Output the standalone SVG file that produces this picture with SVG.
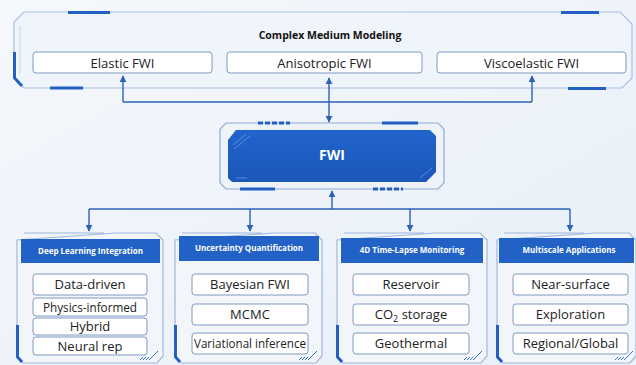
<svg xmlns="http://www.w3.org/2000/svg" width="636" height="365" viewBox="0 0 636 365">
<defs>
<linearGradient id="bg" x1="0" y1="0" x2="1" y2="1">
<stop offset="0" stop-color="#f5f8fc"/>
<stop offset="1" stop-color="#e8eff8"/>
</linearGradient>
<linearGradient id="blue" x1="0" y1="0" x2="0" y2="1">
<stop offset="0" stop-color="#2164cc"/>
<stop offset="1" stop-color="#1a57b8"/>
</linearGradient>
<marker id="ah" viewBox="0 0 10 10" refX="9" refY="5" markerWidth="7" markerHeight="7" markerUnits="userSpaceOnUse" orient="auto">
<path d="M0,0 L10,5 L0,10 Z" fill="#2c62b8"/>
</marker>
<style>
.frame{fill:none;stroke:#9fb8de;stroke-width:1.2}
.accent{stroke:#2260c2;stroke-width:3;fill:none}
.item{fill:#ffffff;stroke:#7f98c2;stroke-width:1}
.itxt{font-family:"Open Sans","Noto Sans",sans-serif;font-size:13px;fill:#222;text-anchor:middle}
.htxt{font-family:"Open Sans","Noto Sans",sans-serif;font-size:8px;font-weight:bold;fill:#ffffff;text-anchor:middle}
.hdr{fill:#2262c6}
.conn{stroke:#2c62b8;stroke-width:1.4;fill:none}
.hatch{stroke:#3a6fc8;stroke-width:1;fill:none}
</style>
</defs>
<rect width="636" height="365" fill="url(#bg)"/>

<g id="complex-medium">
<path d="M24,12 L620,12 L632,24 L632,78 L622,88 L24,88 L14,78 L14,22 Z" fill="#f0f5fb" stroke="#a8bfe2" stroke-width="1.2"/>
<path d="M20,26 L20,74" stroke="#c5d4ec" stroke-width="1" fill="none"/>
<line class="accent" x1="68" y1="12.5" x2="110" y2="12.5"/>
<line class="accent" x1="50" y1="88" x2="83" y2="88"/>
<path class="accent" d="M14.5,52 L14.5,78 L22,86"/>
<line class="accent" x1="561" y1="12.5" x2="599" y2="12.5"/>
<line class="accent" x1="568" y1="88.5" x2="606" y2="88.5"/>
<text x="330" y="39" font-family="'Open Sans','Noto Sans',sans-serif" font-size="10.5" font-weight="bold" fill="#111" text-anchor="middle">Complex Medium Modeling</text>
<rect class="item" x="33" y="52" width="179" height="21" rx="3"/>
<text class="itxt" x="122.5" y="67.5">Elastic FWI</text>
<rect class="item" x="227" y="52" width="195" height="21" rx="3"/>
<text class="itxt" x="324.5" y="67.5">Anisotropic FWI</text>
<rect class="item" x="437" y="52" width="189" height="21" rx="3"/>
<text class="itxt" x="531.5" y="67.5">Viscoelastic FWI</text>
</g>

<g id="fwi">
<path d="M226,123 L438,123 L444,129 L444,183 L438,189 L226,189 L220,183 L220,129 Z" fill="#eef3fa" stroke="#8eaad6" stroke-width="1.2"/>
<path d="M236,130 L430,130 L436,136 L436,172 L426,182 L232,182 L228,178 L228,140 Z" fill="url(#blue)"/>
<path d="M233,145 L246,134 M234,149 L250,136" stroke="#6f9be0" stroke-width="0.8" fill="none"/>
<line x1="236" y1="178" x2="247" y2="178" stroke="#6f9be0" stroke-width="0.8"/>
<path d="M420,178 L432,168" stroke="#6f9be0" stroke-width="0.8"/>
<line x1="258" y1="123" x2="290" y2="123" stroke="#2260c2" stroke-width="3" stroke-dasharray="5,2"/>
<line x1="382" y1="123" x2="418" y2="123" stroke="#2260c2" stroke-width="3"/>
<line x1="240" y1="189" x2="275" y2="189" stroke="#2260c2" stroke-width="3"/>
<line x1="373" y1="189" x2="403" y2="189" stroke="#2260c2" stroke-width="3" stroke-dasharray="5,2"/>
<text x="332" y="160" font-family="'Open Sans','Noto Sans',sans-serif" font-size="14" font-weight="bold" fill="#ffffff" text-anchor="middle">FWI</text>
</g>

<g id="connectors">
<polyline class="conn" points="123,102 532,102"/>
<line class="conn" x1="123" y1="102" x2="123" y2="76" marker-end="url(#ah)"/>
<line class="conn" x1="532" y1="102" x2="532" y2="76" marker-end="url(#ah)"/>
<line class="conn" x1="329" y1="102" x2="329" y2="78" marker-end="url(#ah)"/>
<line class="conn" x1="329" y1="102" x2="329" y2="122" marker-end="url(#ah)"/>
<line class="conn" x1="89" y1="209" x2="570" y2="209"/>
<line class="conn" x1="332" y1="209" x2="332" y2="191" marker-end="url(#ah)"/>
<line class="conn" x1="89" y1="209" x2="89" y2="231" marker-end="url(#ah)"/>
<line class="conn" x1="250" y1="209" x2="250" y2="231" marker-end="url(#ah)"/>
<line class="conn" x1="410" y1="209" x2="410" y2="231" marker-end="url(#ah)"/>
<line class="conn" x1="570" y1="209" x2="570" y2="231" marker-end="url(#ah)"/>
</g>

<g id="deep-learning">
<path d="M24,233 L104,233 M116,233 L156,233 L163,240 L163,356 L157,363 L23,363 L17,357 L17,240 Z" fill="#f2f6fb" stroke="#9fb8de" stroke-width="1.2"/>
<path class="accent" d="M17.5,325 L17.5,357 L22,362"/>
<path class="hatch" d="M140,360 L143,357 M143,360 L146,357 M146,360 L149,357 M149,360 L158,351"/>
<rect class="hdr" x="21" y="239" width="139" height="24"/>
<text class="htxt" x="90.5" y="253.5">Deep Learning Integration</text>
<rect class="item" x="33" y="274" width="114" height="21" rx="3"/>
<text class="itxt" x="90" y="289">Data-driven</text>
<rect class="item" x="33" y="298" width="114" height="18" rx="3"/>
<text class="itxt" x="90" y="311.5" textLength="94" lengthAdjust="spacingAndGlyphs">Physics-informed</text>
<rect class="item" x="33" y="318" width="114" height="17" rx="3"/>
<text class="itxt" x="90" y="331">Hybrid</text>
<rect class="item" x="33" y="337" width="114" height="18" rx="3"/>
<text class="itxt" x="90" y="350.5">Neural rep</text>
</g>

<g id="uncertainty">
<path d="M182,233 L262,233 M274,233 L315,233 L322,240 L322,356 L316,363 L181,363 L175,357 L175,240 Z" fill="#f2f6fb" stroke="#9fb8de" stroke-width="1.2"/>
<path class="accent" d="M175.5,325 L175.5,357 L180,362"/>
<path class="hatch" d="M299,360 L302,357 M302,360 L305,357 M305,360 L308,357 M308,360 L317,351"/>
<rect class="hdr" x="179" y="236" width="140" height="25"/>
<text class="htxt" x="249" y="251">Uncertainty Quantification</text>
<rect class="item" x="192" y="274" width="116" height="21" rx="3"/>
<text class="itxt" x="250" y="289">Bayesian FWI</text>
<rect class="item" x="192" y="304" width="116" height="21" rx="3"/>
<text class="itxt" x="250" y="319">MCMC</text>
<rect class="item" x="192" y="333" width="116" height="21" rx="3"/>
<text class="itxt" x="250" y="348" textLength="112" lengthAdjust="spacingAndGlyphs">Variational inference</text>
</g>

<g id="time-lapse">
<path d="M344,233 L424,233 M436,233 L480,233 L487,240 L487,356 L481,363 L343,363 L337,357 L337,240 Z" fill="#f2f6fb" stroke="#9fb8de" stroke-width="1.2"/>
<path class="accent" d="M337.5,325 L337.5,357 L342,362"/>
<path class="hatch" d="M464,360 L467,357 M467,360 L470,357 M470,360 L473,357 M473,360 L482,351"/>
<rect class="hdr" x="341" y="238" width="142" height="25"/>
<text class="htxt" x="412" y="253">4D Time-Lapse Monitoring</text>
<rect class="item" x="353" y="274" width="116" height="21" rx="3"/>
<text class="itxt" x="411" y="289">Reservoir</text>
<rect class="item" x="353" y="304" width="116" height="21" rx="3"/>
<text class="itxt" x="411" y="319">CO<tspan font-size="9" dy="3">2</tspan><tspan dy="-3"> storage</tspan></text>
<rect class="item" x="353" y="333" width="116" height="21" rx="3"/>
<text class="itxt" x="411" y="348">Geothermal</text>
</g>

<g id="multiscale">
<path d="M504,233 L584,233 M596,233 L629,233 L636,240 L636,356 L630,363 L503,363 L497,357 L497,240 Z" fill="#f2f6fb" stroke="#9fb8de" stroke-width="1.2"/>
<path class="accent" d="M497.5,325 L497.5,357 L502,362"/>
<path class="hatch" d="M615,360 L618,357 M618,360 L621,357 M621,360 L624,357 M624,360 L633,351"/>
<rect class="hdr" x="499" y="238" width="135" height="25"/>
<text class="htxt" x="569" y="253">Multiscale Applications</text>
<rect class="item" x="513" y="274" width="115" height="21" rx="3"/>
<text class="itxt" x="570.5" y="289">Near-surface</text>
<rect class="item" x="513" y="304" width="115" height="21" rx="3"/>
<text class="itxt" x="570.5" y="319">Exploration</text>
<rect class="item" x="513" y="333" width="115" height="21" rx="3"/>
<text class="itxt" x="570.5" y="348">Regional/Global</text>
</g>
</svg>
